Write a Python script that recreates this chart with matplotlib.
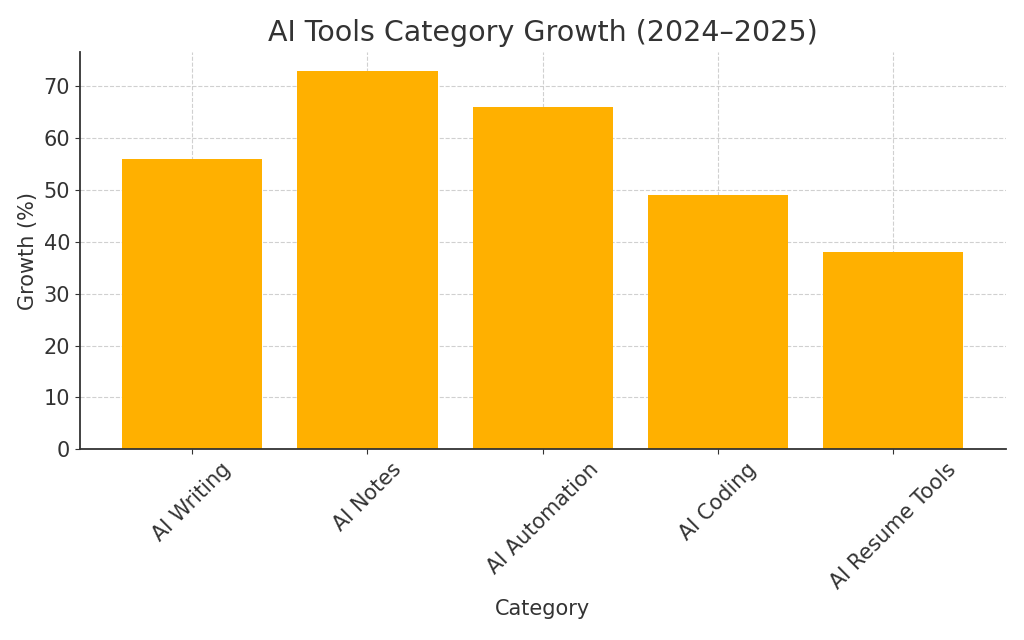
import matplotlib
matplotlib.use("Agg")
import matplotlib.pyplot as plt

categories = ["AI Writing", "AI Notes", "AI Automation", "AI Coding", "AI Resume Tools"]
growth = [56, 73, 66, 49, 38]

fig, ax = plt.subplots(figsize=(10.24, 6.4), dpi=100)
ax.bar(categories, growth, color="#FFB000", width=0.8, zorder=2)
ax.grid(True, linestyle="--", color="#c8c8c8", linewidth=0.8, zorder=3, alpha=0.85)

ax.set_title("AI Tools Category Growth (2024–2025)", fontsize=20.5, color="#333333", pad=8)
ax.set_xlabel("Category", fontsize=15, color="#333333", labelpad=5)
ax.set_ylabel("Growth (%)", fontsize=15, color="#333333")
ax.tick_params(axis="both", labelsize=15, colors="#333333")
plt.setp(ax.get_xticklabels(), rotation=45)

for s in ["top", "right"]:
    ax.spines[s].set_visible(False)
for s in ["left", "bottom"]:
    ax.spines[s].set_color("#333333")
    ax.spines[s].set_linewidth(1.3)

fig.subplots_adjust(left=0.078, right=0.982, top=0.919, bottom=0.298)
fig.savefig("out.png", dpi=100)
